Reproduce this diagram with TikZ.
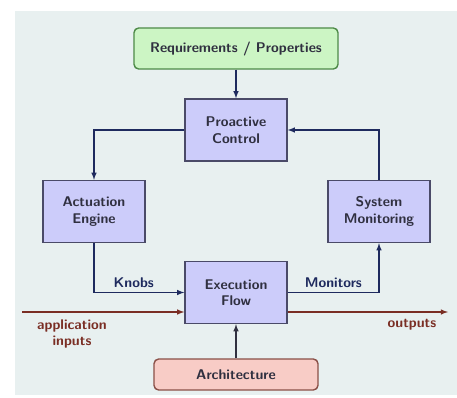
\documentclass[tikz,border=0pt]{standalone}
\usepackage{tikz}
\usetikzlibrary{positioning, arrows}

\definecolor{panel}{HTML}{E8F0F0}
\definecolor{boxfill}{HTML}{CCCCFA}
\definecolor{boxline}{HTML}{4A4A68}
\definecolor{goalfill}{HTML}{CCF5C4}
\definecolor{goalline}{HTML}{4E8A48}
\definecolor{archfill}{HTML}{F8CCC6}
\definecolor{archline}{HTML}{8A5048}
\definecolor{navy}{HTML}{1E2A5E}
\definecolor{rust}{HTML}{7A2E24}
\definecolor{txt}{HTML}{303040}

\tikzset{
  block/.style={draw=boxline, fill=boxfill, line width=1.2pt, minimum width=3.06cm,
    minimum height=1.86cm, align=center, font=\large\sffamily\bfseries, text=txt},
  goal/.style={draw=goalline, fill=goalfill, line width=1.2pt, rounded corners=4pt,
    minimum width=6.12cm, minimum height=1.23cm, font=\large\sffamily\bfseries, text=txt},
  platform/.style={draw=archline, fill=archfill, line width=1.2pt, rounded corners=4pt,
    minimum width=4.92cm, minimum height=0.93cm, font=\large\sffamily\bfseries, text=txt},
  link/.style={->, >=latex, draw=navy, line width=1.1pt},
  dataflow/.style={->, >=latex, draw=rust, line width=1.1pt},
  linklabel/.style={font=\large\sffamily\bfseries, text=navy},
  flowlabel/.style={font=\large\sffamily\bfseries, text=rust, align=center}
}

\begin{document}
\begin{tikzpicture}[x=0.03cm, y=-0.03cm]
\useasboundingbox (0,0) rectangle (457,397);
% background panel
\fill[panel] (15,11) rectangle (457,395);

% Boxes
\node[goal] (req) at (236,48.5) {Requirements / Properties};
\node[block] (ctrl) at (236,130) {Proactive\\Control};
\node[block] (act) at (94,211.5) {Actuation\\Engine};
\node[block] (mon) at (379,211.5) {System\\Monitoring};
\node[block] (exec) at (236,292.5) {Execution\\Flow};
\node[platform] (arch) at (236,374.5) {Architecture};

% Control loop
\draw[link] (req) -- (ctrl);
\draw[link] (ctrl.west) -| (act.north);
\draw[link] (mon.north) |- (ctrl.east);
\draw[link] (act.south) |- node[linklabel, pos=0.72, above] {Knobs} (exec.west);
\draw[link] (exec.east) -| node[linklabel, pos=0.25, above] {Monitors} (mon.south);
\draw[link, draw=txt] (arch) -- (exec);

% Application data flow
\coordinate (in) at (22,312);
\coordinate (out) at (448,312);
\draw[dataflow] (in) -- (in -| exec.west);
\draw[dataflow] (in -| exec.east) -- (out);
\node[flowlabel] (inlbl) at (72,334) {application\\inputs};
\node[flowlabel] (outlbl) at (412,325) {outputs};
\end{tikzpicture}
\end{document}
